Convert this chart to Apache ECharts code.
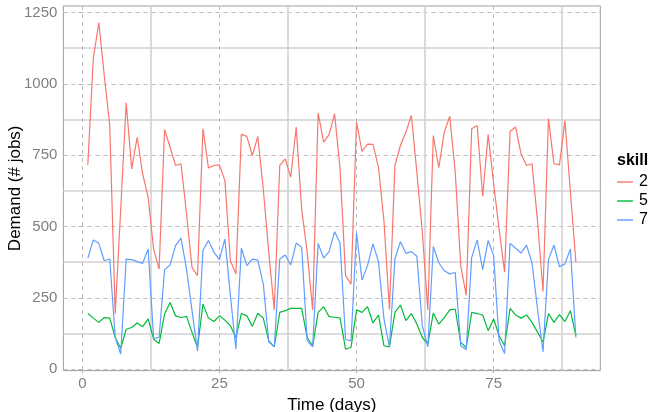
<!DOCTYPE html>
<html>
<head>
<meta charset="utf-8">
<script src="https://cdn.jsdelivr.net/npm/echarts@6/dist/echarts.min.js"></script>
<style>
    html, body { margin: 0; padding: 0; background: #fff; }
    #chart { width: 648px; height: 412px; }
</style>
</head>
<body>
<div id="chart"></div>
<script>
// daily demand per skill
const days = [1, 2, 3, 4, 5, 6, 7, 8, 9, 10, 11, 12, 13, 14, 15, 16, 17, 18, 19, 20,
    21, 22, 23, 24, 25, 26, 27, 28, 29, 30, 31, 32, 33, 34, 35, 36, 37, 38, 39, 40,
    41, 42, 43, 44, 45, 46, 47, 48, 49, 50, 51, 52, 53, 54, 55, 56, 57, 58, 59, 60,
    61, 62, 63, 64, 65, 66, 67, 68, 69, 70, 71, 72, 73, 74, 75, 76, 77, 78, 79, 80,
    81, 82, 83, 84, 85, 86, 87, 88, 89, 90];

const skill2 = [716, 1088, 1215, 1030, 854, 195, 560, 934, 702, 813, 685, 603, 421, 351, 840, 778, 714, 720, 545, 357,
    328, 843, 705, 714, 716, 661, 380, 334, 823, 816, 749, 816, 630, 410, 208, 714, 737, 673, 849, 560,
    410, 208, 898, 796, 822, 895, 702, 328, 298, 866, 763, 789, 788, 708, 520, 208, 714, 784, 831, 889,
    690, 480, 208, 819, 706, 831, 887, 690, 363, 259, 843, 854, 606, 823, 650, 490, 340, 833, 849, 755,
    714, 720, 520, 272, 878, 720, 716, 871, 620, 375];

const skill5 = [195, 179, 164, 181, 179, 111, 73, 140, 146, 162, 149, 176, 105, 90, 193, 234, 187, 181, 185, 129,
    76, 228, 179, 167, 187, 172, 152, 111, 195, 187, 150, 196, 179, 99, 78, 199, 205, 213, 213, 213,
    111, 82, 199, 219, 184, 182, 179, 70, 77, 208, 199, 219, 162, 190, 82, 78, 199, 225, 170, 195,
    158, 111, 88, 197, 158, 181, 208, 211, 94, 76, 199, 195, 190, 135, 176, 117, 82, 213, 190, 179,
    190, 164, 130, 95, 195, 164, 191, 167, 205, 117];

const skill7 = [389, 453, 441, 380, 386, 111, 53, 386, 384, 377, 371, 421, 108, 111, 349, 365, 433, 459, 351, 205,
    64, 416, 451, 410, 384, 456, 258, 70, 424, 363, 386, 382, 298, 96, 78, 386, 400, 365, 442, 427,
    99, 78, 441, 389, 412, 482, 442, 104, 99, 478, 312, 363, 439, 377, 176, 78, 386, 447, 406, 412,
    396, 152, 78, 430, 373, 345, 334, 339, 82, 68, 392, 453, 349, 451, 398, 99, 55, 441, 424, 407,
    435, 372, 211, 61, 384, 435, 359, 369, 421, 111];

const skillNames = ['2', '5', '7'];
const xMajor = [0, 25, 50, 75];
const xMinor = [12.5, 37.5, 62.5, 87.5];
const yMajor = [0, 250, 500, 750, 1000, 1250];
const yMinor = [125, 375, 625, 875, 1125];

const colors = ['#F8766D', '#00BA38', '#619CFF'];
const font = "'Liberation Sans', Arial, sans-serif";

const chart = echarts.init(document.getElementById('chart'));

const majorLine = { show: true, lineStyle: { color: '#bdbdbd', width: 1, type: [4, 4] } };
const minorLine = { show: true, lineStyle: { color: '#d2d2d2', width: 1.6, type: 'solid' } };

function toPairs(values) {
    return days.map((d, i) => [d, values[i]]);
}

chart.setOption({
    animation: false,
    textStyle: { fontFamily: font },
    title: {
        text: 'skill',
        left: 612,
        top: 148,
        textStyle: { fontSize: 16, fontWeight: 'bold', color: '#000', fontFamily: font }
    },
    legend: {
        data: skillNames.map(name => ({ name: name, icon: 'rect' })),
        orient: 'vertical',
        left: 612,
        top: 169,
        itemWidth: 16,
        itemHeight: 1.4,
        itemGap: 3,
        textStyle: { fontSize: 16, color: '#000', fontFamily: font, lineHeight: 16, padding: [0, 0, 0, 1] }
    },
    grid: {
        left: 63.4,
        right: 47.7,
        top: 6,
        bottom: 41.4,
        outerBoundsMode: 'none',
        show: true,
        borderColor: '#9e9e9e',
        borderWidth: 1
    },
    xAxis: [
        {
            type: 'value',
            min: -3.45,
            max: 94.45,
            position: 'bottom',
            name: 'Time (days)',
            nameLocation: 'middle',
            nameGap: 26,
            nameTextStyle: { fontSize: 17, color: '#000' },
            axisLine: { show: false },
            axisTick: { show: true, length: 4, customValues: xMajor, lineStyle: { color: '#b3b3b3' } },
            axisLabel: { customValues: xMajor, color: '#7f7f7f', fontSize: 15, margin: 6, formatter: v => String(v) },
            splitLine: majorLine
        },
        {
            type: 'value',
            min: -3.45,
            max: 94.45,
            position: 'top',
            axisLine: { show: false },
            axisTick: { show: false, customValues: xMinor },
            axisLabel: { show: false, customValues: xMinor },
            splitLine: minorLine
        }
    ],
    yAxis: [
        {
            type: 'value',
            min: -5,
            max: 1273,
            position: 'left',
            name: 'Demand (# jobs)',
            nameLocation: 'middle',
            nameGap: 40,
            nameMoveOverlap: false,
            nameTextStyle: { fontSize: 17, color: '#000' },
            axisLine: { show: false },
            axisTick: { show: true, length: 4, customValues: yMajor, lineStyle: { color: '#b3b3b3' } },
            axisLabel: { customValues: yMajor, color: '#7f7f7f', fontSize: 15, margin: 6, formatter: v => String(v) },
            splitLine: majorLine
        },
        {
            type: 'value',
            min: -5,
            max: 1273,
            position: 'right',
            axisLine: { show: false },
            axisTick: { show: false, customValues: yMinor },
            axisLabel: { show: false, customValues: yMinor },
            splitLine: minorLine
        }
    ],
    series: [skill2, skill5, skill7].map((values, i) => ({
        name: skillNames[i],
        type: 'line',
        xAxisIndex: 0,
        yAxisIndex: 0,
        symbol: 'none',
        color: colors[i],
        lineStyle: { width: 1.2 },
        data: toPairs(values)
    }))
});
</script>
</body>
</html>
